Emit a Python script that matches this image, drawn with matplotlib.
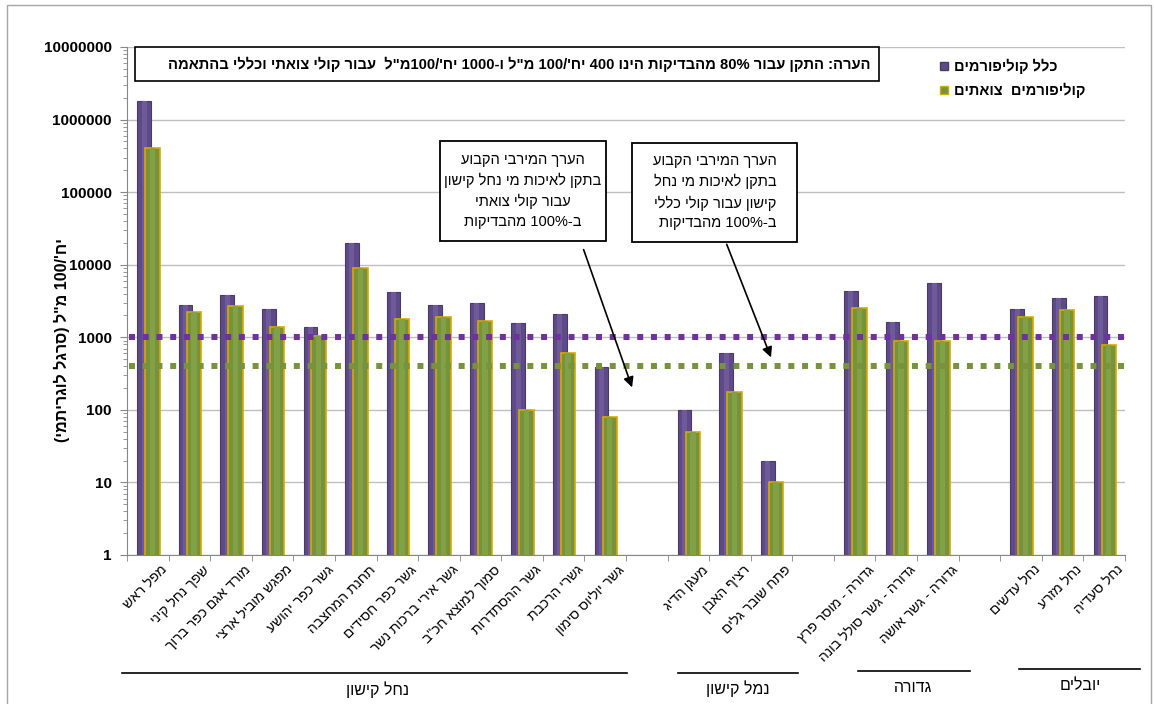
import re
import numpy as np
from matplotlib import pyplot as plt
from matplotlib.patches import Rectangle
from matplotlib.lines import Line2D

plt.rcParams['font.family'] = ['Liberation Sans', 'DejaVu Sans']

# ********** Data **********

sites = ["מפל ראש", "שפך נחל קיני", "מורד אגם כפר ברוך", "מפגש מוביל ארצי", "גשר כפר יהושע",
         "תחנת המחצבה", "גשר כפר חסידים", "גשר אירי ברכות נשר", "סמוך למוצא חכ\"ב", "גשר ההסתדרות",
         "גשרי הרכבת", "גשר יוליוס סימון", "", "מעגן הדיג", "רציף האבן", "פתח שובר גלים", "",
         "גדורה - מוסר פרץ", "גדורה - גשר סולל בונה", "גדורה - גשר אושה", "",
         "נחל עדשים", "נחל מזרע", "נחל סעדיה"]
total_coli = [1.8e6, 2800, 3800, 2450, 1380, 20000, 4200, 2800, 3000, 1580, 2100, 394, np.nan,
              100, 600, 19.7, np.nan, 4400, 1600, 5600, np.nan, 2450, 3440, 3740]
fecal_coli = [4.1e5, 2200, 2700, 1400, 1050, 9000, 1800, 1900, 1700, 100, 600, 80, np.nan,
              50, 178, 10, np.nan, 2500, 880, 900, np.nan, 1900, 2380, 783]
total_limit = 1000
fecal_limit = 400
groups = ["נחל קישון", "נמל קישון", "גדורה", "יובלים"]

PURPLE = '#5E4A87'
PURPLE_EDGE = '#4A3A6C'
GREEN = '#76923C'
GOLD = '#D9A900'

# ***** Helpers *****

def rtl(s):
	# crude visual ordering for a right-to-left line
	out = s[::-1]
	out = re.sub(r'[0-9%]+', lambda m: m.group(0)[::-1], out)
	return out.translate(str.maketrans('()', ')('))

def figPx(px, py):
	return px / 1154.0, 1 - py / 704.0

# ***** Figure *****

fig = plt.figure(figsize=(11.54, 7.04), dpi=100)
ax = fig.add_axes([127/1154, 1-555/704, 998/1154, 508/704])

x = np.arange(len(sites))
ax.bar(x - 0.09, total_coli, width=0.33, color=PURPLE, edgecolor=PURPLE_EDGE, linewidth=0.8, zorder=3)
ax.bar(x - 0.09, total_coli, width=0.12, color='#6E5A98', linewidth=0, zorder=3)
ax.bar(x + 0.11, fecal_coli, width=0.35, color=GREEN, edgecolor=GOLD, linewidth=1.2, zorder=4)
ax.bar(x + 0.11, fecal_coli, width=0.13, color='#82A045', linewidth=0, zorder=4)

ax.set_yscale('log')
ax.set_ylim(1, 1e7)
ax.set_xlim(-0.5, len(sites) - 0.5)
ax.set_yticks([10**k for k in range(8)])
ax.set_yticklabels([str(10**k) for k in range(8)], fontsize=11, fontweight='bold')
ax.tick_params(axis='y', which='major', length=5, color='#868686', pad=6)
ax.tick_params(axis='y', which='minor', length=3, color='#868686')
ax.yaxis.grid(True, which='major', color='#BFBFBF', linewidth=1, zorder=0)
ax.set_axisbelow(True)

ax.set_xticks(x)
ax.set_xticklabels([])
ax.tick_params(axis='x', which='major', length=0)
ax.set_xticks(np.arange(len(sites) + 1) - 0.5, minor=True)
ax.tick_params(axis='x', which='minor', length=4, color='#868686')

for side in ['top', 'right']:
	ax.spines[side].set_visible(False)
for side in ['left', 'bottom']:
	ax.spines[side].set_color('#868686')

for i, name in enumerate(sites):
	if name:
		ax.text(i + 0.3, -0.015, rtl(name), transform=ax.get_xaxis_transform(), rotation=45,
		        rotation_mode='anchor', ha='right', va='top', fontsize=10)

# limit lines
ax.plot([-0.45, 23.6], [total_limit, total_limit], color='#7030A0', linewidth=4.3,
        linestyle=(0, (1, 1.3)), dash_capstyle='butt', clip_on=False, zorder=5)
ax.plot([-0.45, 23.6], [fecal_limit, fecal_limit], color='#77933C', linewidth=4.3,
        linestyle=(0, (1, 1.3)), dash_capstyle='butt', clip_on=False, zorder=5)

# note box
ax.add_patch(Rectangle((0.008, 0.933), 0.746, 0.067, transform=ax.transAxes, fill=True,
                       facecolor='white', edgecolor='black', linewidth=1.2, zorder=6, clip_on=False))
note = "הערה: התקן עבור 80% מהבדיקות הינו 400 יח'/100 מ\"ל ו-1000 יח'/100מ\"ל  עבור קולי צואתי וכללי בהתאמה"
ax.text(0.745, 0.966, rtl(note), transform=ax.transAxes, ha='right', va='center',
        fontsize=10.6, fontweight='bold', zorder=7)

# annotation boxes
boxes = [
	((0.3136, 0.6187), (0.1664, 0.197), ["הערך המירבי הקבוע", "בתקן לאיכות מי נחל קישון", "עבור קולי צואתי", "ב-100% מהבדיקות"], 'center'),
	((0.5057, 0.6167), (0.166, 0.195), ["הערך המירבי הקבוע", "בתקן לאיכות מי נחל", "קישון עבור קולי כללי", "ב-100% מהבדיקות"], 'right'),
]
for (bx, by), (bw, bh), lines, align in boxes:
	ax.add_patch(Rectangle((bx, by), bw, bh, transform=ax.transAxes, facecolor='white',
	                       edgecolor='black', linewidth=1.3, zorder=6))
	ax.text(bx + bw / 2, by + bh / 2, "\n".join(rtl(l) for l in lines), transform=ax.transAxes,
	        ha='center', va='center', multialignment=align, fontsize=10.5, linespacing=1.5, zorder=7)

ax.annotate('', xy=(0.507, 0.3248), xytext=(0.4566, 0.6063), xycoords='axes fraction',
            arrowprops=dict(arrowstyle='-|>', color='black', lw=1.2, mutation_scale=15), zorder=7)
ax.annotate('', xy=(0.6463, 0.3839), xytext=(0.5999, 0.6167), xycoords='axes fraction',
            arrowprops=dict(arrowstyle='-|>', color='black', lw=1.2, mutation_scale=15), zorder=7)

# legend
for k, (label, fc, ec) in enumerate([("כלל קוליפורמים", PURPLE, PURPLE_EDGE), ("קוליפורמים  צואתים", GREEN, GOLD)]):
	py = 66 + 24 * k
	fx, fy = figPx(940, py + 4)
	fig.patches.append(Rectangle((fx, fy), 8/1154, 8/704, transform=fig.transFigure,
	                             facecolor=fc, edgecolor=ec, linewidth=1))
	tx, ty = figPx(954, py)
	fig.text(tx, ty, rtl(label), ha='left', va='center', fontsize=10.5, fontweight='bold')

# y label
lx, ly = figPx(62, 340)
fig.text(lx, ly, rtl("יח'/100 מ\"ל (סרגל לוגריתמי)"), rotation=90, ha='center', va='center',
         fontsize=11.5, fontweight='bold')

# group lines and labels
group_spans = [(122, 627, 673, 378, 690), (678, 798, 673, 738, 689), (858, 970, 671, 913, 687), (1019, 1140, 669, 1080, 686)]
for name, (x0, x1, yl, tx, ty) in zip(groups, group_spans):
	a = figPx(x0, yl)
	b = figPx(x1, yl)
	fig.add_artist(Line2D([a[0], b[0]], [a[1], b[1]], transform=fig.transFigure, color='black', linewidth=1.2))
	cx, cy = figPx(tx, ty)
	fig.text(cx, cy, rtl(name), ha='center', va='center', fontsize=11.5)

# outer frame
f0 = figPx(7, 710)
f1 = figPx(1151, 5)
fig.patches.append(Rectangle(f0, f1[0] - f0[0], f1[1] - f0[1], transform=fig.transFigure,
                             fill=False, edgecolor='#A6A6A6', linewidth=1))

plt.savefig('out.png', dpi=100)
